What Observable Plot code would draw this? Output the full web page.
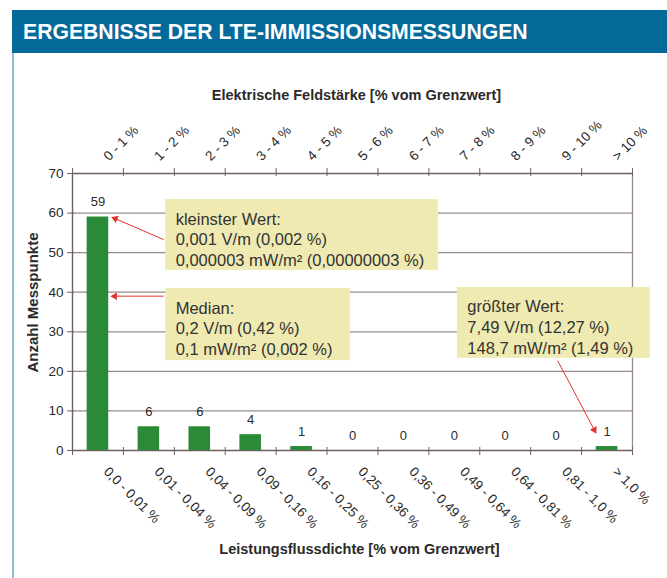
<!DOCTYPE html>
<html>
<head>
<meta charset="utf-8">
<script src="https://cdn.jsdelivr.net/npm/d3@7"></script>
<script src="https://cdn.jsdelivr.net/npm/@observablehq/plot@0.6"></script>
<style>
  body { margin: 0; background: #fff; }
  #page { position: relative; width: 667px; height: 578px; overflow: hidden; font-family: "Liberation Sans", Arial, sans-serif; }
  #title { position: absolute; left: 12px; top: 10px; width: 655px; height: 43px; background: #05699a; color: #fff;
           font-weight: bold; font-size: 21.2px; line-height: 44px; padding-left: 11px; box-sizing: border-box; white-space: nowrap; }
  #border { position: absolute; left: 12px; top: 53px; width: 2px; height: 525px; background: #8dbfdb; }
  #chart { position: absolute; left: 0; top: 55px; }
  g[aria-label="note"] text { letter-spacing: 0.3px; }
  g[aria-label="axis-title"] text { letter-spacing: 0.12px; }
  g[aria-label="y-title"] text { letter-spacing: 0.5px; }
</style>
</head>
<body>
<div id="page">
  <div id="title">ERGEBNISSE DER LTE-IMMISSIONSMESSUNGEN</div>
  <div id="chart"></div>
  <div id="border"></div>
</div>
<script>
// ---- data ----
const fieldLabels = ["0 - 1 %", "1 - 2 %", "2 - 3 %", "3 - 4 %", "4 - 5 %", "5 - 6 %", "6 - 7 %", "7 - 8 %", "8 - 9 %", "9 - 10 %", "> 10 %"];
const powerLabels = ["0,0 - 0,01 %", "0,01 - 0,04 %", "0,04 - 0,09 %", "0,09 - 0,16 %", "0,16 - 0,25 %", "0,25 - 0,36 %", "0,36 - 0,49 %", "0,49 - 0,64 %", "0,64 - 0,81 %", "0,81 - 1,0 %", "> 1,0 %"];
const counts = [59, 6, 6, 4, 1, 0, 0, 0, 0, 0, 1];
const yTicks = [0, 10, 20, 30, 40, 50, 60, 70];
const topTitle = "Elektrische Feldstärke [% vom Grenzwert]";
const bottomTitle = "Leistungsflussdichte [% vom Grenzwert]";
const yTitle = "Anzahl Messpunkte";

// annotations (positions in data units: x = category index, y = count)
const noteTexts = [
  "kleinster Wert:\n0,001 V/m (0,002 %)\n0,000003 mW/m² (0,00000003 %)",
  "Median:\n0,2 V/m (0,42 %)\n0,1 mW/m² (0,002 %)",
  "größter Wert:\n7,49 V/m (12,27 %)\n148,7 mW/m² (1,49 %)"
];
const noteX1 = [1.83, 1.83, 7.56];
const noteX2 = [7.19, 5.46, 11.35];
const noteY1 = [45.5, 22.7, 23.3];
const noteY2 = [63.4, 40.9, 41.2];
const arrowX1 = [1.79, 1.79, 9.53];
const arrowY1 = [53.3, 39.0, 22.7];
const arrowX2 = [0.84, 0.83, 10.25];
const arrowY2 = [58.6, 39.0, 5.2];

// ---- chart ----
const n = fieldLabels.length;
const boundaries = d3.range(0, n + 1);
const noteIdx = d3.range(noteTexts.length);
const axisColor = "#6d625d";
const gridColor = "#978c87";
const textColor = "#2a2a2a";
const red = "#e3322b";
const font = "Liberation Sans, Arial, sans-serif";

function build(extra) {
  return Plot.plot({
    width: 667,
    height: 523,
    marginLeft: 72,
    marginRight: 35,
    marginTop: 118,
    marginBottom: 128,
    x: { domain: [0, n], axis: null },
    y: { domain: [0, 70], axis: null },
    style: { fontFamily: font, fontSize: "13px", color: textColor, background: "transparent", overflow: "visible" },
    marks: [
      // grid
      Plot.ruleY(yTicks.filter(d => d > 0 && d < 70), { stroke: gridColor, strokeWidth: 1.3 }),
      Plot.ruleX([n], { stroke: gridColor, strokeWidth: 1.3 }),
      // axis lines
      Plot.ruleY([0], { stroke: axisColor, strokeWidth: 1.6 }),
      Plot.ruleY([70], { stroke: axisColor, strokeWidth: 1.6 }),
      Plot.ruleX([0], { stroke: axisColor, strokeWidth: 1.4 }),
      // ticks
      Plot.ruleX(boundaries, { y1: 70, y2: 70, insetTop: -5, insetBottom: -3, stroke: axisColor }),
      Plot.ruleX(boundaries, { y1: 0, y2: 0, insetTop: -3, insetBottom: -5, stroke: axisColor }),
      Plot.ruleY(yTicks, { x1: 0, x2: 0, insetLeft: -5, insetRight: -2, stroke: axisColor }),
      // bars
      Plot.rect(counts, { x1: (d, i) => i + 0.288, x2: (d, i) => i + 0.712, y1: 0, y2: d => d, fill: "#2b8a37" }),
      // value labels
      Plot.text(counts, { x: (d, i) => i + 0.5, y: d => d, text: d => String(d), dy: -15, lineAnchor: "middle", fontSize: 13, fill: textColor }),
      // y tick labels
      Plot.text(yTicks, { x: 0, y: d => d, text: d => String(d), textAnchor: "end", lineAnchor: "middle", dx: -9, fontSize: 13.5, fill: textColor }),
      // top tick labels
      Plot.text(fieldLabels, { x: (d, i) => i + 0.5, frameAnchor: "top", text: d => d, rotate: -45, textAnchor: "start", lineAnchor: "bottom", dx: 11, dy: -12, fontSize: 13.5, fill: textColor }),
      // bottom tick labels
      Plot.text(powerLabels, { x: (d, i) => i + 0.5, frameAnchor: "bottom", text: d => d, rotate: 45, textAnchor: "start", lineAnchor: "bottom", dx: 5, dy: 22, fontSize: 13.5, fill: textColor }),
      // axis titles
      Plot.text([topTitle], { frameAnchor: "top", text: d => d, dx: 4, dy: -74, lineAnchor: "bottom", fontWeight: "bold", fontSize: 14.5, fill: textColor, ariaLabel: "axis-title" }),
      Plot.text([bottomTitle], { frameAnchor: "bottom", text: d => d, dx: 7, dy: 103, lineAnchor: "bottom", fontWeight: "bold", fontSize: 14.5, fill: textColor, ariaLabel: "axis-title" }),
      Plot.text([yTitle], { frameAnchor: "left", text: d => d, rotate: -90, dx: -39, dy: -9.5, lineAnchor: "middle", textAnchor: "middle", fontWeight: "bold", fontSize: 15, fill: textColor, ariaLabel: "y-title" }),
      // annotation boxes
      Plot.rect(noteIdx, { x1: i => noteX1[i], x2: i => noteX2[i], y1: i => noteY1[i], y2: i => noteY2[i], fill: "#efeab2" }),
      Plot.text(noteIdx, { x: i => noteX1[i], y: i => noteY2[i], text: i => noteTexts[i], textAnchor: "start", lineAnchor: "top", lineHeight: 1.27, dx: 10, dy: 10, fontSize: 16.5, fill: "#333", ariaLabel: "note" }),
      // arrow shafts
      Plot.link(noteIdx, { x1: i => arrowX1[i], y1: i => arrowY1[i], x2: i => arrowX2[i], y2: i => arrowY2[i], stroke: red, strokeWidth: 1 }),
      ...extra
    ]
  });
}

let chart = build([]);
const sx = chart.scale("x"), sy = chart.scale("y");
const headAngles = noteIdx.map(i => {
  const dx = sx.apply(arrowX2[i]) - sx.apply(arrowX1[i]);
  const dy = sy.apply(arrowY2[i]) - sy.apply(arrowY1[i]);
  return Math.atan2(dx, -dy) * 180 / Math.PI;
});
chart = build([
  Plot.dot(noteIdx, { x: i => arrowX2[i], y: i => arrowY2[i], symbol: "triangle", r: 2.8, rotate: i => headAngles[i], fill: red, stroke: "none" })
]);
document.getElementById("chart").appendChild(chart);
</script>
</body>
</html>
